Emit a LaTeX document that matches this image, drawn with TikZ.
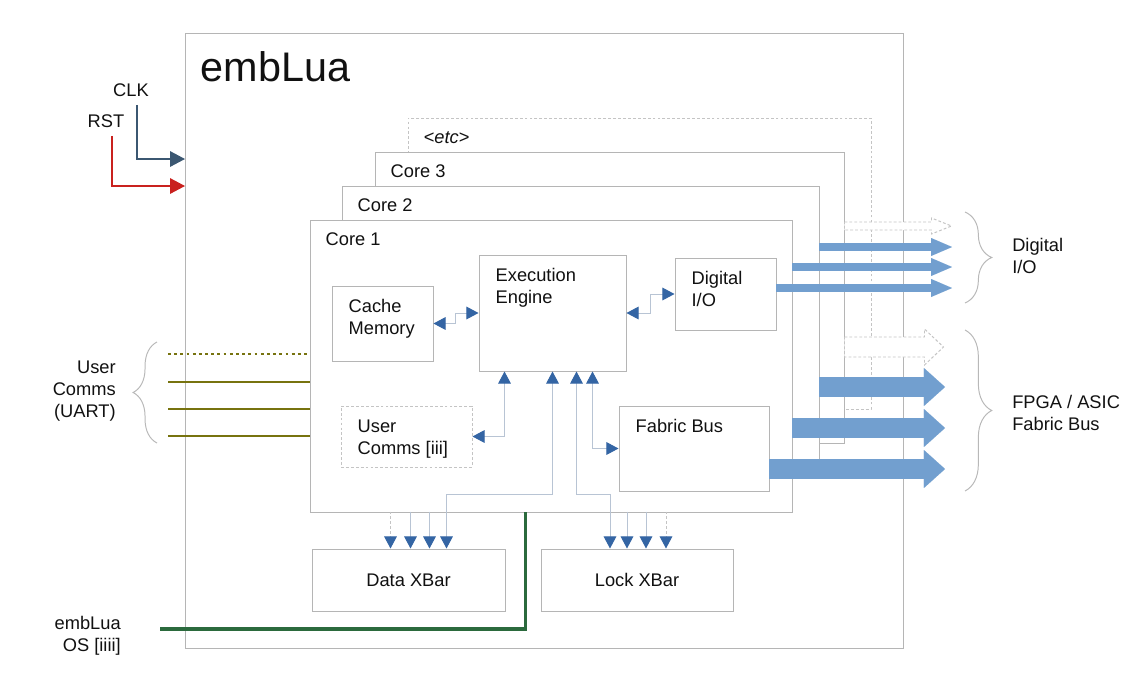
\documentclass[tikz,border=0pt]{standalone}
\usepackage{fontspec}
\setmainfont{Liberation Sans}
\usetikzlibrary{arrows.meta,calc,fit,decorations.pathreplacing}
\definecolor{ink}{HTML}{111111}
\definecolor{boxgray}{HTML}{B5B5B5}
\definecolor{ghostgray}{HTML}{C4C4C4}
\definecolor{bracegray}{HTML}{B8B8B8}
\definecolor{tipblue}{HTML}{3465A4}
\definecolor{wire}{HTML}{B8C4D4}
\definecolor{busblue}{HTML}{729FCF}
\definecolor{olive}{HTML}{77730F}
\definecolor{osgreen}{HTML}{2B6A3D}
\definecolor{clkslate}{HTML}{3B5771}
\definecolor{rstred}{HTML}{C9211E}
\tikzset{
  every node/.style={font=\fontsize{13}{15.6}\selectfont, text=ink},
  blk/.style={draw=boxgray, line width=0.7pt, fill=white, inner sep=0pt},
  ghostblk/.style={blk, draw=ghostgray, dash pattern=on 2pt off 1.5pt},
  lbl/.style={anchor=north west, align=left, inner sep=0pt, xshift=12pt, yshift=-9.9pt},
  corelbl/.style={anchor=base west, inner sep=0pt, xshift=11.3pt, yshift=-18.8pt},
  midlbl/.style={anchor=center, inner sep=0pt},
  title/.style={anchor=base west, inner sep=0pt, xshift=11.3pt, yshift=-34.7pt, font=\fontsize{29.4}{35}\selectfont},
  note/.style={inner sep=0pt},
  conn/.style={draw=wire, line width=0.7pt},
  ghostconn/.style={conn, draw=ghostgray, dash pattern=on 2pt off 1.5pt},
  dioarrow/.style={draw=busblue, line width=6pt, -{Triangle[length=14.9pt,width=12.8pt,line width=0.01pt]}},
  fabarrow/.style={draw=busblue, line width=14.2pt, -{Triangle[length=15pt,width=27pt,line width=0.01pt]}},
  ghostarrow/.style={draw=ghostgray, fill=white, line width=0.7pt, dash pattern=on 2pt off 1.5pt},
  uartline/.style={draw=olive, line width=2.1pt},
  uartdots/.style={uartline, line width=2pt, dash pattern=on 2pt off 2.4pt},
  osline/.style={draw=osgreen, line width=2.8pt},
  clkline/.style={draw=clkslate, line width=1pt, -{Triangle[length=10.6pt,width=11pt]}},
  rstline/.style={clkline, draw=rstred},
  bracket/.style={draw=bracegray, line width=0.7pt, decorate},
}

\begin{document}
\begin{tikzpicture}[x=0.025cm, y=-0.025cm, >={Triangle[length=8.6pt,width=9pt,color=tipblue]}]
\useasboundingbox (0,0) rectangle (1147,685);

% chip outline
\node[blk, fit={(185,33) (903,648)}, label={[title]north west:embLua}] (emb) {};

% stack of cores
\node[ghostblk, fit={(408,118) (871,409)}, label={[corelbl]north west:\textit{<etc>}}] (core4) {};
\node[blk, fit={(375,152) (844,443)}, label={[corelbl]north west:Core 3}] (core3) {};
\node[blk, fit={(342,186) (819,477)}, label={[corelbl]north west:Core 2}] (core2) {};
\node[blk, fit={(310,220) (792,512)}, label={[corelbl]north west:Core 1}] (core1) {};

% blocks of core 1
\node[blk, fit={(332,286) (433,361)}, label={[lbl]north west:Cache\\Memory}] (cache) {};
\node[blk, fit={(479,255) (626,371)}, label={[lbl]north west:Execution\\Engine}] (exec) {};
\node[blk, fit={(675,258) (776,330)}, label={[lbl]north west:Digital\\I/O}] (dio) {};
\node[ghostblk, fit={(341,406) (472,467)}, label={[lbl]north west:{User\\Comms [iii]}}] (ucomm) {};
\node[blk, fit={(619,406) (769,491)}, label={[lbl]north west:Fabric Bus}] (fbus) {};

% crossbars
\node[blk, fit={(312,549) (505,611)}, label={[midlbl]center:Data XBar}] (dxbar) {};
\node[blk, fit={(541,549) (733,611)}, label={[midlbl]center:Lock XBar}] (lxbar) {};

% internal links
\draw[conn,<->] (cache.east) -- ++(22,0) |- (exec.west);
\draw[conn,<->] (exec.east) -- ++(24,0) |- (dio.west);
\draw[conn,<->] (ucomm.east) -| ($(exec.south west)+(26,0)$);
\draw[conn,<->] ($(exec.south)+(40,0)$) |- (fbus.west);
\draw[conn,<->] (exec.south) -- ++(0,123) -| ($(dxbar.north)+(38,0)$);
\draw[conn,<->] ($(exec.south)+(24,0)$) -- ++(0,123) -| ($(lxbar.north)+(-27,0)$);

% links of the other cores
\draw[ghostconn,->] ($(dxbar.north)+(-18,-37)$) -- ($(dxbar.north)+(-18,0)$);
\draw[conn,->] ($(dxbar.north)+(2,-37)$) -- ($(dxbar.north)+(2,0)$);
\draw[conn,->] ($(dxbar.north)+(21,-37)$) -- ($(dxbar.north)+(21,0)$);
\draw[conn,->] ($(lxbar.north)+(-10,-37)$) -- ($(lxbar.north)+(-10,0)$);
\draw[conn,->] ($(lxbar.north)+(9,-37)$) -- ($(lxbar.north)+(9,0)$);
\draw[ghostconn,->] ($(lxbar.north)+(29,-37)$) -- ($(lxbar.north)+(29,0)$);

% outputs
\coordinate (d1) at (952,226);
\coordinate (d2) at (952,247);
\coordinate (d3) at (952,267);
\coordinate (d4) at (952,288);
\coordinate (f1) at (944,347);
\coordinate (f2) at (945,387);
\coordinate (f3) at (945,428);
\coordinate (f4) at (945,469);
\draw[ghostarrow] (core3.east |- d1) ++(0,-4) -- ++(87,0) -- ++(0,-4) -- ++(20,8) -- ++(-20,8) -- ++(0,-4) -- ++(-87,0) -- cycle;
\draw[ghostarrow] (core3.east |- f1) ++(0,-10) -- ++(80,0) -- ++(0,-8) -- ++(19,18) -- ++(-19,18) -- ++(0,-8) -- ++(-80,0) -- cycle;
\draw[dioarrow] (core2.east |- d2) -- (d2);
\draw[dioarrow] (core1.east |- d3) -- (d3);
\draw[dioarrow] (dio.east |- d4) -- (d4);
\draw[fabarrow] (core2.east |- f2) -- (f2);
\draw[fabarrow] (core1.east |- f3) -- (f3);
\draw[fabarrow] (fbus.east |- f4) -- (f4);

\draw[bracket, decoration={brace, amplitude=19pt}] (965,212) -- (965,303);
\draw[bracket, decoration={brace, amplitude=19pt}] (965,330) -- (965,491);
\node[note, anchor=west, align=left] (diolbl) at (1012,256) {Digital\\I/O};
\node[note, anchor=west, align=left] (fablbl) at (1012,413) {FPGA / ASIC\\Fabric Bus};

% user comms lines
\draw[bracket, decoration={brace, amplitude=17pt}] (157,443) -- (157,342);
\node[note, anchor=east, align=right] (uart) at (116,391) {User\\Comms\\(UART)};
\coordinate (u1) at (168,354);
\coordinate (u2) at (168,382);
\coordinate (u3) at (168,409);
\coordinate (u4) at (168,436);
\draw[uartdots] (u1) -- (core1.west |- u1);
\draw[uartline] (u2) -- (core1.west |- u2);
\draw[uartline] (u3) -- (core1.west |- u3);
\draw[uartline] (u4) -- (core1.west |- u4);

% clock and reset
\node[note] (clk) at (131,90) {CLK};
\node[note] (rst) at (106,121) {RST};
\coordinate (clkin) at (185,159);
\coordinate (rstin) at (185,186);
\draw[clkline] ($(clk.south)+(6,8)$) |- (clkin);
\draw[rstline] ($(rst.south)+(6,8)$) |- (rstin);

% os
\node[note, anchor=east, align=right] (os) at (121,636) {embLua\\OS [iiii]};
\draw[osline] ($(core1.south west)+(216,0)$) |- ($(os.east)+(39,-7)$);
\end{tikzpicture}
\end{document}
